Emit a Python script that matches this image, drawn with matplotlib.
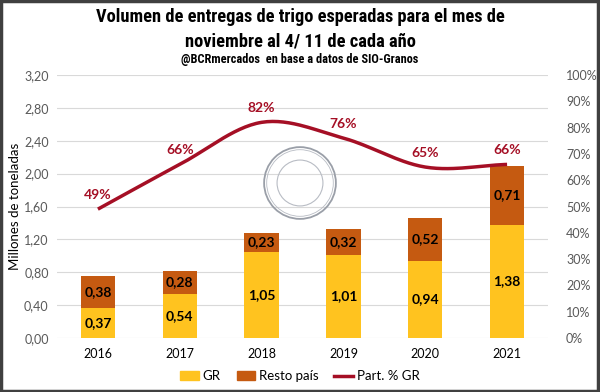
import matplotlib
matplotlib.use("Agg")
import matplotlib.pyplot as plt
import numpy as np
from matplotlib.patches import Rectangle, Circle
from matplotlib.lines import Line2D
from matplotlib import font_manager as fm

years = ["2016", "2017", "2018", "2019", "2020", "2021"]
gr = [0.37, 0.54, 1.05, 1.01, 0.94, 1.38]
resto = [0.38, 0.28, 0.23, 0.32, 0.52, 0.71]
part = [49, 66, 82, 76, 65, 66]
left_ticks = [0.0, 0.4, 0.8, 1.2, 1.6, 2.0, 2.4, 2.8, 3.2]
right_ticks = list(range(0, 101, 10))

C_GR = "#FFC31F"
C_RESTO = "#C55A11"
C_LINE = "#A50F25"
TXT = "#595959"

plt.rcParams['font.family'] = ['Lato', 'DejaVu Sans']

def pick(cands):
    for c in cands:
        try:
            fm.findfont(fm.FontProperties(family=c), fallback_to_default=False)
            return c
        except Exception:
            pass
    return 'DejaVu Sans'

TFONT = pick(['Liberation Sans Narrow', 'DejaVu Sans Condensed', 'Roboto Condensed',
              'Open Sans Condensed', 'Roboto'])

fig = plt.figure(figsize=(6.0, 3.92), dpi=100)
ax = fig.add_axes([57/600, 1-338/392, (548-57)/600, (338-75)/392])
x = np.arange(len(years))
w = 0.42
ax.bar(x, gr, w, color=C_GR, label="GR", zorder=3)
ax.bar(x, resto, w, bottom=gr, color=C_RESTO, label="Resto país", zorder=3)
for i in range(len(years)):
    ax.text(x[i], gr[i]/2, f"{gr[i]:.2f}".replace('.', ','), ha='center', va='center',
            fontsize=10, fontweight='bold', color='black', zorder=5)
    ax.text(x[i], gr[i] + resto[i]/2, f"{resto[i]:.2f}".replace('.', ','), ha='center', va='center',
            fontsize=10, fontweight='bold', color='black', zorder=5)
ax.set_xlim(-0.5, len(years)-0.5)
ax.set_ylim(0, 3.2)
ax.set_yticks(left_ticks)
ax.set_yticklabels([f"{v:.2f}".replace('.', ',') for v in left_ticks], fontsize=9, color=TXT)
ax.set_xticks(x)
ax.set_xticklabels(years, fontsize=9, color='black')
ax.tick_params(axis='y', length=0, pad=6)
ax.tick_params(axis='x', length=0, pad=7)
ax.grid(axis='y', color='#D9D9D9', linewidth=0.8, zorder=0)
for s in ax.spines.values():
    s.set_visible(False)
ax.set_ylabel("Millones de toneladas", fontsize=9.5, color='black')
ax.yaxis.set_label_coords(-(57-21)/491, 0.5)

ax2 = ax.twinx()
ax2.set_ylim(0, 100)
ax2.set_yticks(right_ticks)
ax2.set_yticklabels([f"{v}%" for v in right_ticks], fontsize=9, color=TXT)
ax2.tick_params(length=0, pad=13)
for s in ax2.spines.values():
    s.set_visible(False)

# smoothed line (Catmull-Rom through data points)
px = np.array(x, dtype=float)
py = np.array(part, dtype=float)
P = np.vstack([px, py]).T
Pe = np.vstack([P[0] - (P[1]-P[0]), P, P[-1] + (P[-1]-P[-2])])
xs, ys = [], []
for k in range(1, len(Pe)-2):
    p0, p1, p2, p3 = Pe[k-1], Pe[k], Pe[k+1], Pe[k+2]
    for t in np.linspace(0, 1, 30, endpoint=(k == len(Pe)-3)):
        pt = 0.5*((2*p1) + (-p0+p2)*t + (2*p0-5*p1+4*p2-p3)*t**2 + (-p0+3*p1-3*p2+p3)*t**3)
        xs.append(pt[0]); ys.append(pt[1])
ax2.plot(xs, ys, color=C_LINE, linewidth=2.5, zorder=4, solid_capstyle='butt')
for i in range(len(years)):
    ax2.text(px[i], py[i] + 5.5, f"{part[i]}%", ha='center', va='center', fontsize=10,
             fontweight='bold', color=C_LINE)

# watermark logo
logo = fig.add_axes([263/600, 1-220/392, 74/600, 74/392])
logo.set_xlim(-1, 1); logo.set_ylim(-1, 1); logo.axis('off')
logo.add_patch(Circle((0, 0), 0.97, fill=False, ec='#9A9FA8', lw=1.3))
logo.add_patch(Circle((0, 0), 0.90, fill=False, ec='#B8BCC4', lw=0.6))
logo.add_patch(Circle((0, 0), 0.62, fill=False, ec='#B8BCC4', lw=0.8))

# titles (fit to reference widths)
fig.canvas.draw()
rend = fig.canvas.get_renderer()
def fit_text(y, s, target_w, size):
    t = fig.text(0.5, y, s, ha='center', va='center', fontsize=size, fontweight='bold', family=TFONT)
    bw = t.get_window_extent(rend).width
    t.set_fontsize(size * target_w / bw)
    return t
fit_text(1-17/392, "Volumen de entregas de trigo esperadas para el mes de", 410, 14)
fit_text(1-42/392, "noviembre al 4/ 11 de cada año", 233, 14)
fit_text(1-59/392, "@BCRmercados  en base a datos de SIO-Granos", 236, 8.5)

# legend
h1 = Rectangle((0, 0), 1, 1, color=C_GR)
h2 = Rectangle((0, 0), 1, 1, color=C_RESTO)
h3 = Line2D([0], [0], color=C_LINE, lw=2.5)
fig.legend([h1, h2, h3], ["GR", "Resto país", "Part. % GR"], loc='center', bbox_to_anchor=(0.5, 1-376/392),
           ncol=3, frameon=False, fontsize=9.5, handlelength=1.4, handleheight=0.6, columnspacing=1.2,
           handletextpad=0.3)

# frame
fig.add_artist(Rectangle((0.002, 0.003), 0.995, 0.994, transform=fig.transFigure, fill=False,
                         ec='#404040', lw=2.5))

fig.savefig("out.png", dpi=100)
